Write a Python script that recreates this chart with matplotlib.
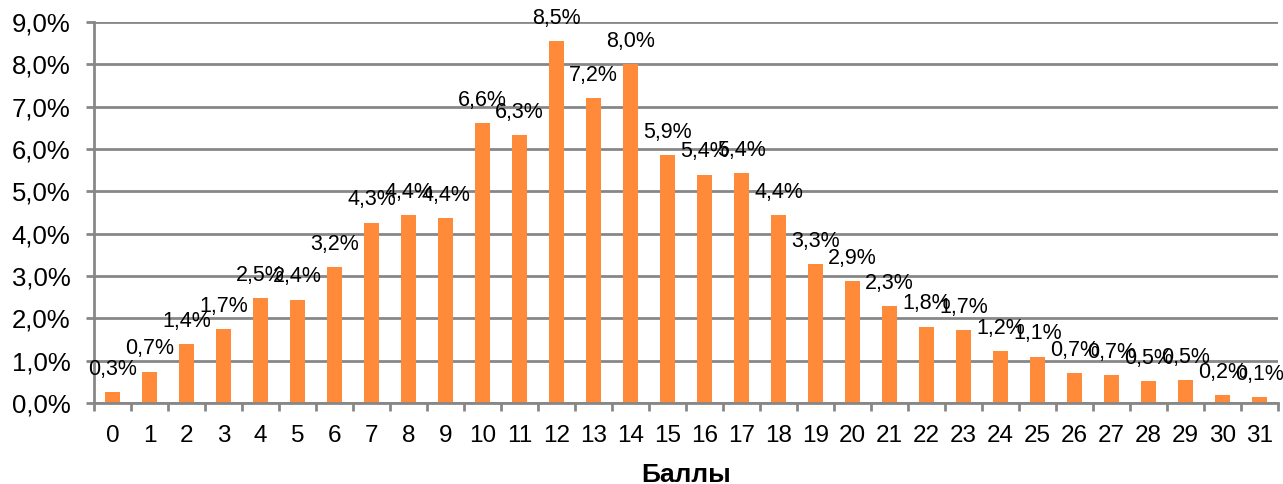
import matplotlib
matplotlib.use("Agg")
import matplotlib.pyplot as plt
import numpy as np

plt.rcParams['font.family'] = ['Liberation Sans', 'DejaVu Sans']

# Score distribution (share of participants, %)
scores = list(range(32))
shares = [0.26, 0.74, 1.39, 1.74, 2.48, 2.44, 3.21, 4.26, 4.44, 4.37,
          6.61, 6.33, 8.54, 7.20, 8.00, 5.86, 5.39, 5.43, 4.44, 3.28,
          2.88, 2.29, 1.80, 1.72, 1.23, 1.09, 0.70, 0.66, 0.52, 0.54,
          0.19, 0.14]
y_ticks = [0, 1, 2, 3, 4, 5, 6, 7, 8, 9]
x_title = "Баллы"

bar_color = "#FF8A3A"
grid_color = "#878787"

fig = plt.figure(figsize=(12.83, 4.84), dpi=100)
ax = fig.add_axes([94 / 1283, 81 / 484, (1278 - 94) / 1283, 381 / 484])

x = np.arange(len(scores))
ax.bar(x, shares, width=0.4, color=bar_color, zorder=3)

ax.set_xlim(-0.5, len(scores) - 0.5)
ax.set_ylim(0, 9)

ax.set_yticks(y_ticks)
ax.set_yticklabels([f"{v:.1f}%".replace(".", ",") for v in y_ticks])
ax.yaxis.grid(True, color=grid_color, linewidth=2, zorder=0)
ax.tick_params(axis='y', length=6, width=2, color=grid_color, pad=11, labelsize=18.5)

ax.set_xticks(x)
ax.set_xticklabels([str(s) for s in scores])
ax.set_xticks(np.arange(-0.5, len(scores)), minor=True)
ax.tick_params(axis='x', which='major', length=0, pad=16, labelsize=17.5)
ax.tick_params(axis='x', which='minor', length=6, width=2, color=grid_color, direction='out')

for side in ('top', 'right'):
    ax.spines[side].set_visible(False)
for side in ('left', 'bottom'):
    ax.spines[side].set_color(grid_color)
    ax.spines[side].set_linewidth(2)
    ax.spines[side].set_zorder(4)

for xi, v in zip(x, shares):
    ax.annotate(f"{v:.1f}%".replace(".", ","), xy=(xi, v), xytext=(0, 12.5),
                textcoords='offset points', ha='center', va='baseline',
                fontsize=15.5, color='black', zorder=5, annotation_clip=False)

ax.set_xlabel(x_title, fontsize=19, fontweight='bold', labelpad=11)

fig.savefig("out.png", dpi=100)
